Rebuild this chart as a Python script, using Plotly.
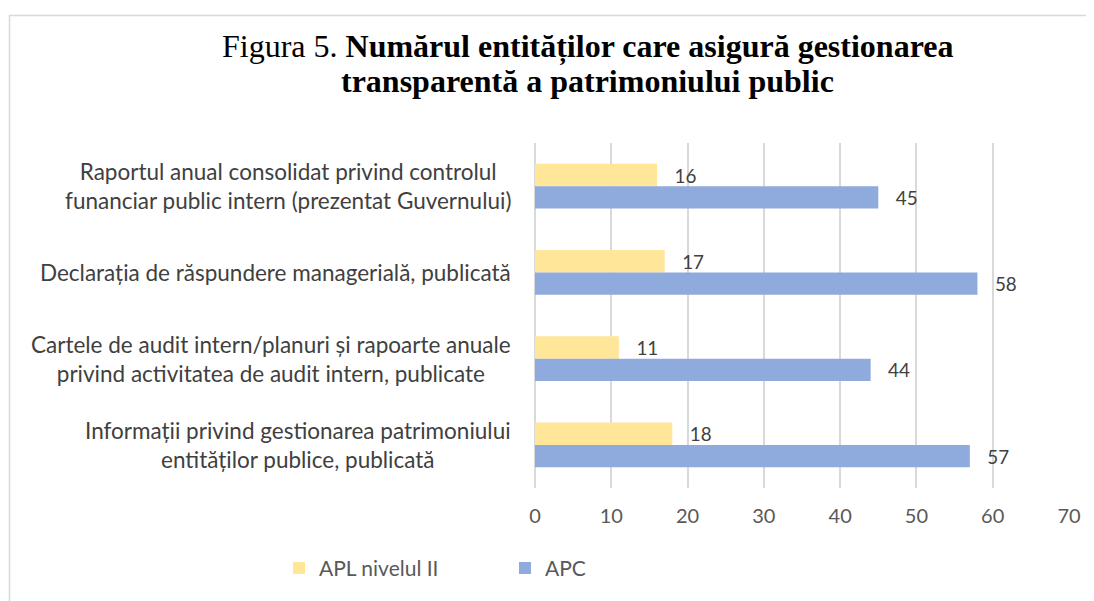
import plotly.graph_objects as go

categories = [
    "Raportul anual consolidat privind controlul<br>funanciar public intern (prezentat Guvernului)",
    "Declarația de răspundere managerială, publicată",
    "Cartele de audit intern/planuri și rapoarte anuale<br>privind activitatea de audit intern, publicate",
    "Informații privind gestionarea patrimoniului<br>entităților publice, publicată",
]
cat_ids = ["c1", "c2", "c3", "c4"]
apl_values = [16, 17, 11, 18]
apc_values = [45, 58, 44, 57]
x_ticks = [0, 10, 20, 30, 40, 50, 60, 70]
title_lines = [
    "Figura 5. <b>Numărul entităților care asigură gestionarea</b>",
    "<b>transparentă a patrimoniului public</b>",
]

FONT = "Lato"
OFF = 8  # page body margin
FW, FH = 1094 - OFF, 601 - OFF

fig = go.Figure()
fig.add_trace(go.Bar(
    y=cat_ids, x=apl_values, orientation="h", name="APL nivelul II",
    marker=dict(color="#FFE699", line=dict(width=0)),
    text=[f"   {v}" for v in apl_values], textposition="outside",
    textfont=dict(family=FONT, size=21, color="#404040"), cliponaxis=False,
))
fig.add_trace(go.Bar(
    y=cat_ids, x=apc_values, orientation="h", name="APC",
    marker=dict(color="#8FAADC", line=dict(width=0)),
    text=[f"   {v}" for v in apc_values], textposition="outside",
    textfont=dict(family=FONT, size=21, color="#404040"), cliponaxis=False,
))

# screen-pixel positions of the plot area
L, R, T, B = 535 - OFF, 1069 - OFF, 143 - OFF, 495 - OFF
W, H = R - L, B - T

def px_x(p):
    return (p - OFF - L) / W

def px_y(p):
    return (B - (p - OFF)) / H

annotations = []
for cid, lab in zip(cat_ids, categories):
    annotations.append(dict(
        x=px_x(513), xref="paper", y=cid, yref="y", text=lab, showarrow=False,
        xanchor="right", yanchor="middle", align="center",
        font=dict(family=FONT, size=22.5, color="#404040"),
    ))
for line, yc in zip(title_lines, [45, 80]):
    annotations.append(dict(
        x=px_x(587), xref="paper", y=px_y(yc), yref="paper", text=line, showarrow=False,
        xanchor="center", yanchor="middle",
        font=dict(family="Liberation Serif", size=32, color="#000000"),
    ))

fig.update_layout(
    width=FW, height=FH,
    margin=dict(l=L, r=FW - R, t=T, b=FH - B),
    paper_bgcolor="white", plot_bgcolor="white",
    barmode="group", bargap=0.48, bargroupgap=0,
    xaxis=dict(
        range=[0, 70], tickvals=x_ticks, showgrid=True, gridcolor="#D9D9D9", gridwidth=1.5,
        zeroline=True, zerolinecolor="#D9D9D9", zerolinewidth=1.5, showline=False,
        tickfont=dict(family=FONT, size=20, color="#595959"), ticks="", ticklen=0,
        ticklabelstandoff=14,
    ),
    yaxis=dict(
        categoryorder="array", categoryarray=cat_ids, autorange="reversed",
        showticklabels=False, showgrid=False, zeroline=False, showline=False,
    ),
    legend=dict(
        orientation="h", x=px_x(279), xanchor="left", y=px_y(556), yanchor="top",
        font=dict(family=FONT, size=21, color="#595959"),
        entrywidth=181, entrywidthmode="pixels", itemwidth=30,
    ),
    annotations=annotations,
    shapes=[dict(
        type="rect", xref="paper", yref="paper",
        x0=px_x(9.5), x1=px_x(1110), y0=px_y(620), y1=px_y(13),
        line=dict(color="#D9D9D9", width=1.5), fillcolor="rgba(0,0,0,0)", layer="below",
    )],
)

fig.write_html("out.html")
